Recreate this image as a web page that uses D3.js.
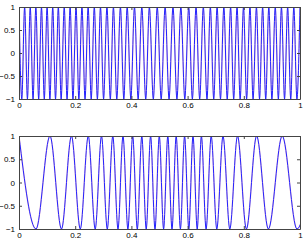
<!DOCTYPE html>
<html>
<head>
<meta charset="utf-8">
<script src="https://cdn.jsdelivr.net/npm/d3@7"></script>
<style>
body { margin: 0; background: #fff; }
svg { display: block; font-family: "Liberation Sans", Arial, sans-serif; }
</style>
</head>
<body>
<div id="main"></div>
<script>
// ================= data =================
// tick labels
var xTicks = [0, 0.2, 0.4, 0.6, 0.8, 1];
var yTicks = [-1, -0.5, 0, 0.5, 1];

// top panel: times of the peaks / troughs (starts on a peak, alternates)
var topTimes = [
	0, 0.010, 0.020, 0.030, 0.040, 0.050, 0.060, 0.070, 0.080, 0.090,
	0.100, 0.110, 0.120, 0.130, 0.140, 0.150, 0.161, 0.171, 0.182, 0.192,
	0.203, 0.213, 0.224, 0.235, 0.246, 0.257, 0.268, 0.279, 0.290, 0.301,
	0.313, 0.325, 0.336, 0.348, 0.361, 0.373, 0.385, 0.398, 0.411, 0.424,
	0.437, 0.451, 0.464, 0.478, 0.492, 0.506, 0.520, 0.534, 0.548, 0.562,
	0.576, 0.590, 0.604, 0.617, 0.630, 0.643, 0.656, 0.669, 0.681, 0.693,
	0.705, 0.717, 0.729, 0.741, 0.753, 0.764, 0.776, 0.787, 0.799, 0.810,
	0.822, 0.833, 0.845, 0.856, 0.867, 0.878, 0.889, 0.900, 0.912, 0.923,
	0.934, 0.945, 0.956, 0.967, 0.978, 0.989, 1.0
];

// bottom panel: times of the peaks / troughs (starts on a peak, alternates)
var bottomTimes = [
	0, 0.0605, 0.1103, 0.1512, 0.1868, 0.2181, 0.2466, 0.2712, 0.2936, 0.3142,
	0.3338, 0.3523, 0.3701, 0.3875, 0.4046, 0.4210, 0.4370, 0.4527, 0.4683, 0.4840,
	0.4993, 0.5146, 0.5295, 0.5445, 0.5594, 0.5744, 0.5893, 0.6043, 0.6192, 0.6342,
	0.6491, 0.6658, 0.6840, 0.7039, 0.7260, 0.7502, 0.7776, 0.8093, 0.8456, 0.8875,
	0.9367, 0.9893, 1.0534
];

// ================= layout =================
var width = 306, height = 240;
var left = 19, right = 300;
var panels = [
	{ top: 7, bottom: 99, times: topTimes },
	{ top: 136, bottom: 229, times: bottomTimes }
];

var svg = d3.select('#main').append('svg')
	.attr('width', width)
	.attr('height', height);

var x = d3.scaleLinear().domain([0, 1]).range([left, right]);

// extremes alternate between +1 and -1
function toPoints(times) {
	return times.map(function(t, i) { return [t, i % 2 ? -1 : 1]; });
}

panels.forEach(function(p, k) {
	var y = d3.scaleLinear().domain([-1, 1]).range([p.bottom, p.top]);
	var g = svg.append('g');

	g.append('clipPath').attr('id', 'clip' + k)
		.append('rect')
		.attr('x', left).attr('y', p.top)
		.attr('width', right - left).attr('height', p.bottom - p.top);

	var pts = toPoints(p.times);
	var line = d3.line()
		.x(function(d) { return x(d[0]); })
		.y(function(d) { return y(d[1]); })
		.curve(d3.curveMonotoneX);

	// red trace sits under the blue one, only a faint edge shows
	var lines = g.append('g').attr('clip-path', 'url(#clip' + k + ')');
	lines.append('path').attr('d', line(pts))
		.attr('fill', 'none').attr('stroke', '#ff8080').attr('stroke-width', 1.5)
		.attr('stroke-opacity', 0.35);
	lines.append('path').attr('d', line(pts))
		.attr('fill', 'none').attr('stroke', '#2222ff').attr('stroke-width', 1);

	// axes, matlab style: ticks inside, box all round
	var xb = d3.axisBottom(x).tickValues(xTicks).tickSizeInner(-3).tickSizeOuter(0)
		.tickPadding(3).tickFormat(d3.format('~g'));
	var xt = d3.axisTop(x).tickValues(xTicks).tickSizeInner(-3).tickSizeOuter(0)
		.tickFormat('');
	var yl = d3.axisLeft(y).tickValues(yTicks).tickSizeInner(-3).tickSizeOuter(0)
		.tickPadding(4).tickFormat(function(d) { return String(d).replace('-', '\u2212'); });
	var yr = d3.axisRight(y).tickValues(yTicks).tickSizeInner(-3).tickSizeOuter(0)
		.tickFormat('');

	g.append('g').attr('transform', 'translate(0,' + p.bottom + ')').call(xb);
	g.append('g').attr('transform', 'translate(0,' + p.top + ')').call(xt);
	g.append('g').attr('transform', 'translate(' + left + ',0)').call(yl);
	g.append('g').attr('transform', 'translate(' + right + ',0)').call(yr);

	g.selectAll('.domain').attr('stroke', '#444');
	g.selectAll('.tick line').attr('stroke', '#444');
	g.selectAll('.tick text').attr('font-size', 8).attr('fill', '#000')
		.attr('font-family', '"Liberation Sans", Arial, sans-serif');
});
</script>
</body>
</html>
